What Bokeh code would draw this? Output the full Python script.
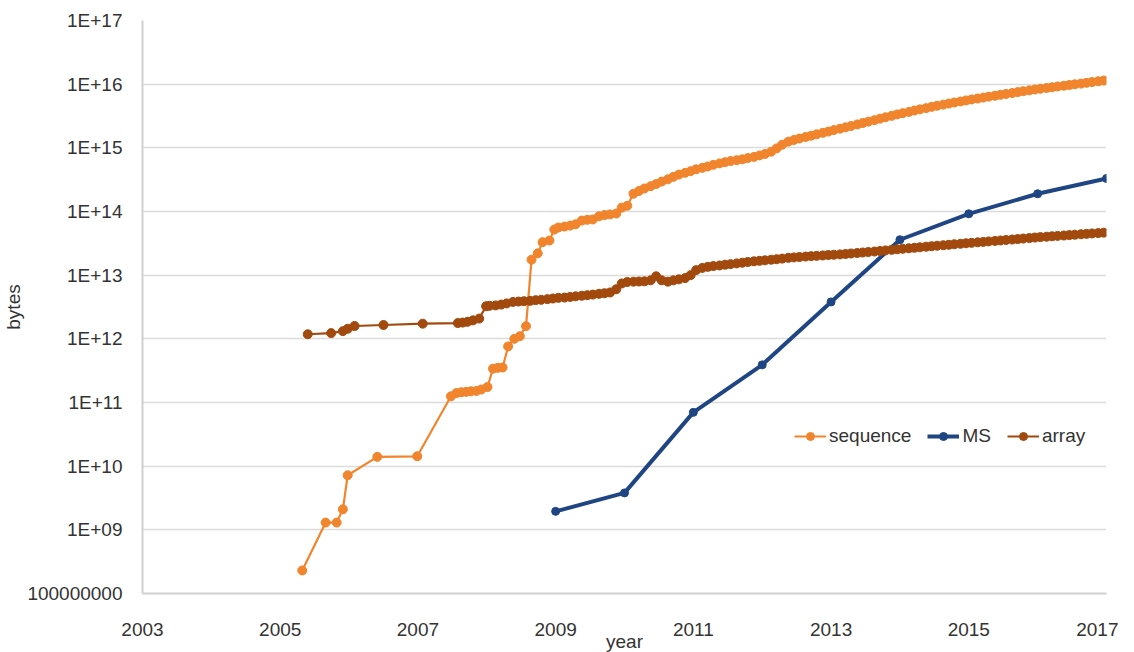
from bokeh.plotting import figure
from bokeh.models import FixedTicker, Legend, LegendItem
from bokeh.embed import file_html
from bokeh.resources import INLINE

# ---------------- data ----------------
seq_year = [2005.32, 2005.66, 2005.82, 2005.91, 2005.98, 2006.41, 2006.99, 2007.48, 2007.56, 2007.63,
            2007.70, 2007.77, 2007.85, 2007.92, 2008.01, 2008.09, 2008.16, 2008.23, 2008.31, 2008.40,
            2008.48, 2008.57, 2008.65, 2008.74, 2008.81, 2008.91, 2008.98,
            2009.04, 2009.13, 2009.21, 2009.29, 2009.38, 2009.46, 2009.54, 2009.63, 2009.71, 2009.79, 2009.88, 2009.96,
            2010.04, 2010.13, 2010.21, 2010.29, 2010.38, 2010.46, 2010.54, 2010.63, 2010.71, 2010.79, 2010.88, 2010.96,
            2011.04, 2011.13, 2011.21, 2011.29, 2011.38, 2011.46, 2011.54, 2011.63, 2011.71, 2011.79, 2011.88, 2011.96,
            2012.04, 2012.13, 2012.21, 2012.29, 2012.38, 2012.46, 2012.54, 2012.63, 2012.71, 2012.79, 2012.88, 2012.96,
            2013.04, 2013.13, 2013.21, 2013.29, 2013.38, 2013.46, 2013.54, 2013.63, 2013.71, 2013.79, 2013.88, 2013.96,
            2014.04, 2014.13, 2014.21, 2014.29, 2014.38, 2014.46, 2014.54, 2014.63, 2014.71, 2014.79, 2014.88, 2014.96,
            2015.04, 2015.13, 2015.21, 2015.29, 2015.38, 2015.46, 2015.54, 2015.63, 2015.71, 2015.79, 2015.88, 2015.96,
            2016.04, 2016.13, 2016.21, 2016.29, 2016.38, 2016.46, 2016.54, 2016.63, 2016.71, 2016.79, 2016.88, 2016.96]
seq_bytes = [2.3e8, 1.3e9, 1.3e9, 2.1e9, 7.2e9, 1.4e10, 1.43e10, 1.25e11, 1.41e11, 1.45e11,
             1.47e11, 1.5e11, 1.52e11, 1.6e11, 1.75e11, 3.4e11, 3.5e11, 3.55e11, 7.6e11, 1.0e12,
             1.1e12, 1.58e12, 1.75e13, 2.2e13, 3.3e13, 3.5e13, 5.2e13,
             5.6e13, 5.8e13, 6.0e13, 6.3e13, 7.2e13, 7.4e13, 7.5e13, 8.4e13, 8.8e13, 9.0e13, 9.3e13, 1.15e14,
             1.23e14, 1.9e14, 2.1e14, 2.3e14, 2.5e14, 2.7e14, 2.95e14, 3.2e14, 3.5e14, 3.8e14, 4.05e14, 4.3e14,
             4.6e14, 4.85e14, 5.1e14, 5.4e14, 5.7e14, 5.95e14, 6.2e14, 6.4e14, 6.6e14, 6.9e14, 7.2e14, 7.6e14,
             8.0e14, 8.7e14, 9.8e14, 1.12e15, 1.25e15, 1.33e15, 1.4e15, 1.48e15, 1.55e15, 1.63e15, 1.72e15, 1.8e15,
             1.9e15, 2.0e15, 2.1e15, 2.2e15, 2.33e15, 2.45e15, 2.58e15, 2.72e15, 2.87e15, 3.02e15, 3.18e15, 3.35e15,
             3.5e15, 3.67e15, 3.85e15, 4.02e15, 4.2e15, 4.4e15, 4.58e15, 4.77e15, 4.96e15, 5.15e15, 5.35e15, 5.55e15,
             5.75e15, 5.95e15, 6.15e15, 6.37e15, 6.58e15, 6.8e15, 7.02e15, 7.25e15, 7.5e15, 7.75e15, 8.0e15, 8.25e15,
             8.48e15, 8.7e15, 8.95e15, 9.2e15, 9.45e15, 9.7e15, 9.95e15, 1.02e16, 1.05e16, 1.08e16, 1.11e16, 1.14e16]

ms_year = [2009, 2010, 2011, 2012, 2013, 2014, 2015, 2016, 2017]
ms_bytes = [1.95e9, 3.8e9, 7.0e10, 3.9e11, 3.8e12, 3.6e13, 9.2e13, 1.9e14, 3.3e14]

arr_year = [2005.40, 2005.74, 2005.91, 2005.98, 2006.08, 2006.50, 2007.07, 2007.58, 2007.65, 2007.72,
            2007.80, 2007.89, 2007.99,
            2008.04, 2008.13, 2008.21, 2008.29, 2008.38, 2008.46, 2008.54, 2008.63, 2008.71, 2008.79, 2008.88, 2008.96,
            2009.04, 2009.13, 2009.21, 2009.29, 2009.38, 2009.46, 2009.54, 2009.63, 2009.71, 2009.79, 2009.88, 2009.96,
            2010.04, 2010.13, 2010.21, 2010.29, 2010.38, 2010.46, 2010.54, 2010.63, 2010.71, 2010.79, 2010.88, 2010.96,
            2011.04, 2011.13, 2011.21, 2011.29, 2011.38, 2011.46, 2011.54, 2011.63, 2011.71, 2011.79, 2011.88, 2011.96,
            2012.04, 2012.13, 2012.21, 2012.29, 2012.38, 2012.46, 2012.54, 2012.63, 2012.71, 2012.79, 2012.88, 2012.96,
            2013.04, 2013.13, 2013.21, 2013.29, 2013.38, 2013.46, 2013.54, 2013.63, 2013.71, 2013.79, 2013.88, 2013.96,
            2014.04, 2014.13, 2014.21, 2014.29, 2014.38, 2014.46, 2014.54, 2014.63, 2014.71, 2014.79, 2014.88, 2014.96,
            2015.04, 2015.13, 2015.21, 2015.29, 2015.38, 2015.46, 2015.54, 2015.63, 2015.71, 2015.79, 2015.88, 2015.96,
            2016.04, 2016.13, 2016.21, 2016.29, 2016.38, 2016.46, 2016.54, 2016.63, 2016.71, 2016.79, 2016.88, 2016.96]
arr_bytes = [1.18e12, 1.23e12, 1.32e12, 1.44e12, 1.59e12, 1.65e12, 1.73e12, 1.77e12, 1.8e12, 1.85e12,
             1.95e12, 2.08e12, 3.25e12,
             3.3e12, 3.35e12, 3.45e12, 3.6e12, 3.8e12, 3.85e12, 3.9e12, 3.95e12, 4.05e12, 4.1e12, 4.2e12, 4.3e12,
             4.4e12, 4.45e12, 4.55e12, 4.65e12, 4.75e12, 4.85e12, 4.95e12, 5.1e12, 5.2e12, 5.35e12, 6.0e12, 7.4e12,
             7.8e12, 7.9e12, 7.95e12, 8.0e12, 8.3e12, 9.6e12, 8.3e12, 7.9e12, 8.3e12, 8.6e12, 9.0e12, 1.0e13,
             1.2e13, 1.3e13, 1.35e13, 1.39e13, 1.42e13, 1.46e13, 1.49e13, 1.53e13, 1.57e13, 1.61e13, 1.65e13, 1.68e13,
             1.71e13, 1.75e13, 1.78e13, 1.82e13, 1.87e13, 1.9e13, 1.93e13, 1.96e13, 1.99e13, 2.01e13, 2.04e13, 2.07e13,
             2.09e13, 2.12e13, 2.15e13, 2.19e13, 2.23e13, 2.27e13, 2.31e13, 2.35e13, 2.4e13, 2.45e13, 2.5e13, 2.55e13,
             2.6e13, 2.64e13, 2.69e13, 2.74e13, 2.8e13, 2.85e13, 2.9e13, 2.95e13, 3.0e13, 3.06e13, 3.11e13, 3.17e13,
             3.22e13, 3.28e13, 3.33e13, 3.39e13, 3.45e13, 3.51e13, 3.57e13, 3.63e13, 3.69e13, 3.76e13, 3.83e13, 3.9e13,
             3.96e13, 4.02e13, 4.08e13, 4.14e13, 4.2e13, 4.26e13, 4.32e13, 4.39e13, 4.45e13, 4.52e13, 4.58e13, 4.65e13]

x_ticks = [2003, 2005, 2007, 2009, 2011, 2013, 2015, 2017]
y_ticks = [1e8, 1e9, 1e10, 1e11, 1e12, 1e13, 1e14, 1e15, 1e16, 1e17]
y_tick_labels = ["100000000", "1E+09", "1E+10", "1E+11", "1E+12", "1E+13",
                 "1E+14", "1E+15", "1E+16", "1E+17"]
series_names = ["sequence", "MS", "array"]

# ---------------- styling ----------------
FONT = "Liberation Sans"
FS = "19px"
TXT = "#333333"
C_SEQ = "#F0852D"
C_MS = "#1F4682"
C_ARR = "#A2490E"
GRID = "#dcdcdc"

p = figure(frame_width=964, frame_height=573, y_axis_type="log",
           x_range=(2003, 2017), y_range=(1e8, 1e17),
           output_backend="svg", toolbar_location=None,
           min_border_left=134, min_border_top=20, min_border_right=12, min_border_bottom=40)
p.outline_line_color = None
p.background_fill_color = "white"
p.border_fill_color = "white"

p.xgrid.grid_line_color = None
p.ygrid.grid_line_color = GRID
p.ygrid.grid_line_width = 1.5

p.xaxis.ticker = FixedTicker(ticks=x_ticks)
p.yaxis.ticker = FixedTicker(ticks=y_ticks, minor_ticks=[])
p.yaxis.major_label_overrides = {t: l for t, l in zip(y_ticks, y_tick_labels)}
p.xaxis.major_label_overrides = {t: str(t) for t in x_ticks}

for ax in (p.xaxis[0], p.yaxis[0]):
    ax.axis_line_color = "#d0d0d0"
    ax.axis_line_width = 2
    ax.major_tick_line_color = None
    ax.minor_tick_line_color = None
    ax.major_tick_out = 0
    ax.major_tick_in = 0
    ax.minor_tick_out = 0
    ax.minor_tick_in = 0
    ax.major_label_text_font = FONT
    ax.major_label_text_font_size = FS
    ax.major_label_text_color = TXT
    ax.axis_label_text_font = FONT
    ax.axis_label_text_font_size = FS
    ax.axis_label_text_color = TXT
    ax.axis_label_text_font_style = "normal"

p.xaxis.axis_label = "year"
p.yaxis.axis_label = "bytes"
p.xaxis.major_label_standoff = 29
p.yaxis.major_label_standoff = 20
p.xaxis.axis_label_standoff = -8
p.yaxis.axis_label_standoff = 0

l1 = p.line(seq_year, seq_bytes, line_color=C_SEQ, line_width=2.2)
s1 = p.scatter(seq_year, seq_bytes, size=9, fill_color=C_SEQ, line_color=C_SEQ)
l2 = p.line(ms_year, ms_bytes, line_color=C_MS, line_width=4)
s2 = p.scatter(ms_year, ms_bytes, size=8, fill_color=C_MS, line_color=C_MS)
l3 = p.line(arr_year, arr_bytes, line_color=C_ARR, line_width=2.2)
s3 = p.scatter(arr_year, arr_bytes, size=9, fill_color=C_ARR, line_color=C_ARR)

legend = Legend(items=[LegendItem(label=series_names[0], renderers=[l1, s1]),
                       LegendItem(label=series_names[1], renderers=[l2, s2]),
                       LegendItem(label=series_names[2], renderers=[l3, s3])],
                orientation="horizontal", location=(652, 146),
                glyph_width=32, glyph_height=20, label_standoff=3, spacing=16,
                padding=0, margin=0, border_line_color=None, background_fill_alpha=0,
                label_text_font=FONT, label_text_font_size=FS, label_text_color=TXT)
p.add_layout(legend, "center")

open("out.html", "w").write(file_html(p, INLINE))
